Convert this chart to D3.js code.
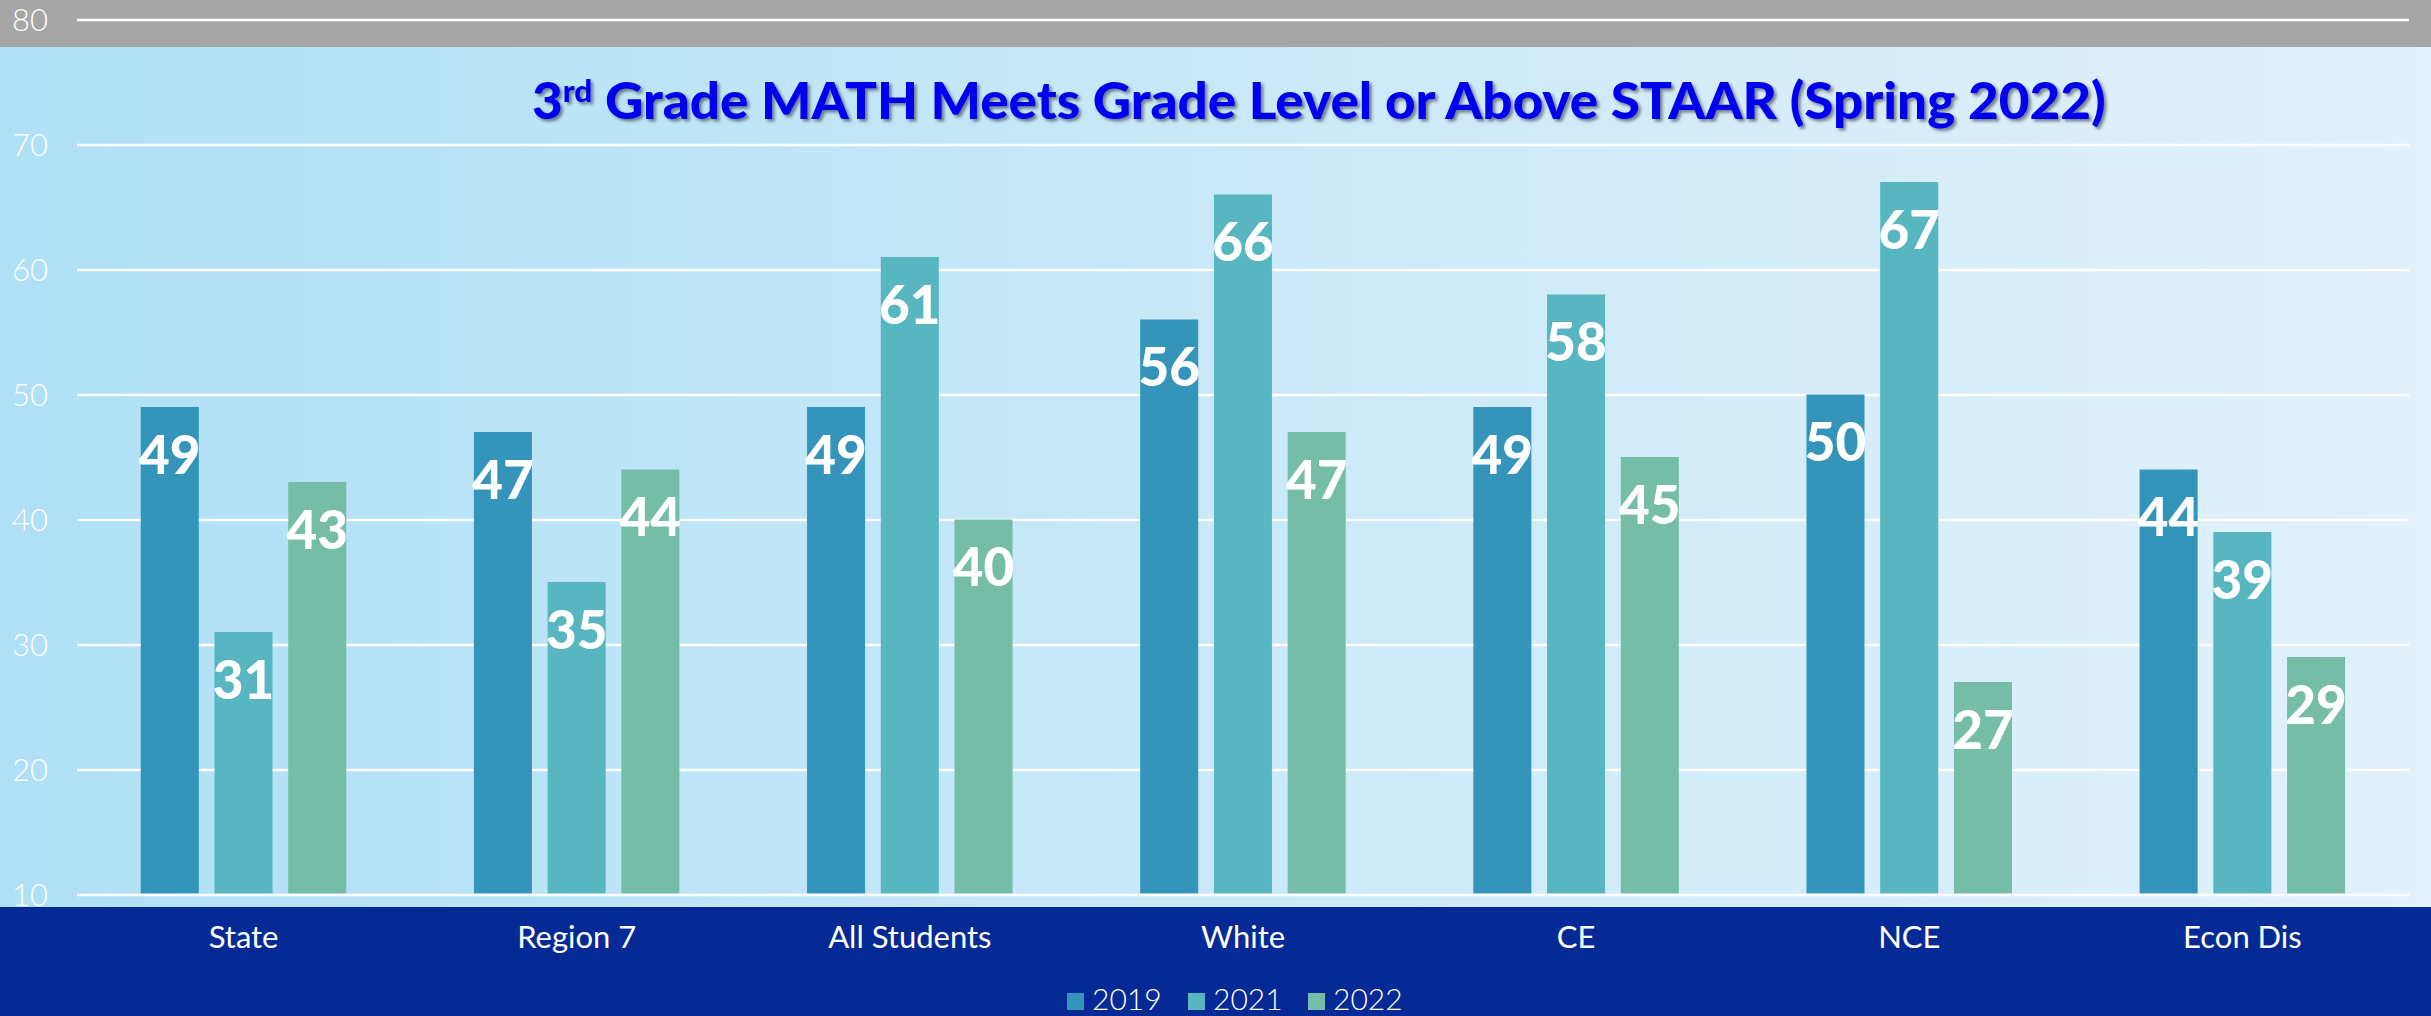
<!DOCTYPE html>
<html><head><meta charset="utf-8">
<script src="https://cdn.jsdelivr.net/npm/d3@7"></script>
<style>html,body{margin:0;padding:0;overflow:hidden;background:#fff}</style>
</head><body><svg id="c" width="2431" height="1016"></svg>
<script>
const categories = ["State","Region 7","All Students","White","CE","NCE","Econ Dis"];
const seriesNames = ["2019","2021","2022"];
const values2019 = [49,47,49,56,49,50,44];
const values2021 = [31,35,61,66,58,67,39];
const values2022 = [43,44,40,47,45,27,29];
const yTicks = [10,20,30,40,50,60,70,80];
const seriesColors = ["#3494BA","#58B6C0","#75BDA7"];

const W = 2431, H = 1016;
const svg = d3.select("#c");
const defs = svg.append("defs");
const grad = defs.append("linearGradient").attr("id","bg").attr("x1","0").attr("x2","1").attr("y1","0").attr("y2","0");
grad.append("stop").attr("offset","0").attr("stop-color","#B0E0F6");
grad.append("stop").attr("offset","1").attr("stop-color","#E2F1FA");
const f = defs.append("filter").attr("id","sh").attr("x","-5%").attr("y","-20%").attr("width","110%").attr("height","150%");
f.append("feDropShadow").attr("dx",2.5).attr("dy",2.5).attr("stdDeviation",1.5).attr("flood-color","#000").attr("flood-opacity",0.45);

// backgrounds
svg.append("rect").attr("x",0).attr("y",0).attr("width",W).attr("height",47).attr("fill","#A6A6A6");
svg.append("rect").attr("x",0).attr("y",47).attr("width",W).attr("height",860).attr("fill","url(#bg)");
svg.append("rect").attr("x",0).attr("y",907).attr("width",W).attr("height",H-907).attr("fill","#052A96");

const y = d3.scaleLinear().domain([10,80]).range([894.5,19.5]);
const x0 = d3.scaleBand().domain(categories).range([77,2409]).paddingInner(0).paddingOuter(0);
const x1 = d3.scaleBand().domain(seriesNames).range([63.75, 269.25]).paddingInner(0.213).paddingOuter(0);
const color = d3.scaleOrdinal().domain(seriesNames).range(seriesColors);

// y axis + gridlines
const yAxis = svg.append("g").attr("transform","translate(77,0)")
  .call(d3.axisLeft(y).tickValues(yTicks).tickSize(-(2409-77)).tickPadding(29));
yAxis.select(".domain").remove();
yAxis.selectAll("line").attr("stroke","#FFFFFF").attr("stroke-width",2.3);
yAxis.selectAll("text").attr("fill","#FFFFFF").attr("font-family","Lato, sans-serif")
  .attr("font-weight",300).attr("font-size",31).attr("dy","0.35em");

// title
const title = svg.append("g");
const tText = title.append("text").attr("x",0).attr("y",119)
  .attr("font-family","Lato, sans-serif").attr("font-weight",900).attr("font-size",52)
  .attr("fill","#0000EE").attr("filter","url(#sh)");
tText.append("tspan").text("3");
tText.append("tspan").attr("font-size",31).attr("dy",-17).text("rd");
tText.append("tspan").attr("dy",17).text(" Grade MATH Meets Grade Level or Above STAAR (Spring 2022)");
const tw = tText.node().getComputedTextLength();
const targetW = 2106 - 532;
title.attr("transform",`translate(532,0) scale(${targetW/tw},1)`);

// bars
const data = categories.map((c,i)=>({cat:c, vals:[values2019[i],values2021[i],values2022[i]]}));
const groups = svg.append("g").selectAll("g").data(data).join("g")
  .attr("transform", d=>`translate(${x0(d.cat)},0)`);
const cells = groups.selectAll("g").data(d=>d.vals.map((v,j)=>({s:seriesNames[j], v})))
  .join("g");
cells.append("rect")
  .attr("x", d=>x1(d.s)).attr("width", x1.bandwidth())
  .attr("y", d=>y(d.v)).attr("height", d=>y(10)-1.2-y(d.v))
  .attr("fill", d=>color(d.s));
cells.append("text")
  .attr("x", d=>x1(d.s)+x1.bandwidth()/2).attr("y", d=>y(d.v)+66.5)
  .attr("text-anchor","middle").attr("fill","#FFFFFF")
  .attr("font-family","Lato, sans-serif").attr("font-weight",900).attr("font-size",53)
  .text(d=>d.v);

// x axis labels
const xAxis = svg.append("g").attr("transform","translate(0,907)")
  .call(d3.axisBottom(x0).tickSize(0));
xAxis.select(".domain").remove();
xAxis.selectAll("text").attr("y",41).attr("dy",0).attr("fill","#FFFFFF")
  .attr("font-family","Lato, sans-serif").attr("font-weight",400).attr("font-size",31);

// legend
const legX = [1067,1188,1308];
const leg = svg.append("g").selectAll("g").data(seriesNames).join("g")
  .attr("transform",(d,i)=>`translate(${legX[i]},0)`);
leg.append("rect").attr("x",0).attr("y",993).attr("width",17).attr("height",17).attr("fill",d=>color(d));
leg.append("text").attr("x",25).attr("y",1010).attr("fill","#FFFFFF")
  .attr("font-family","Lato, sans-serif").attr("font-weight",300).attr("font-size",30).text(d=>d);
</script>
</body></html>
